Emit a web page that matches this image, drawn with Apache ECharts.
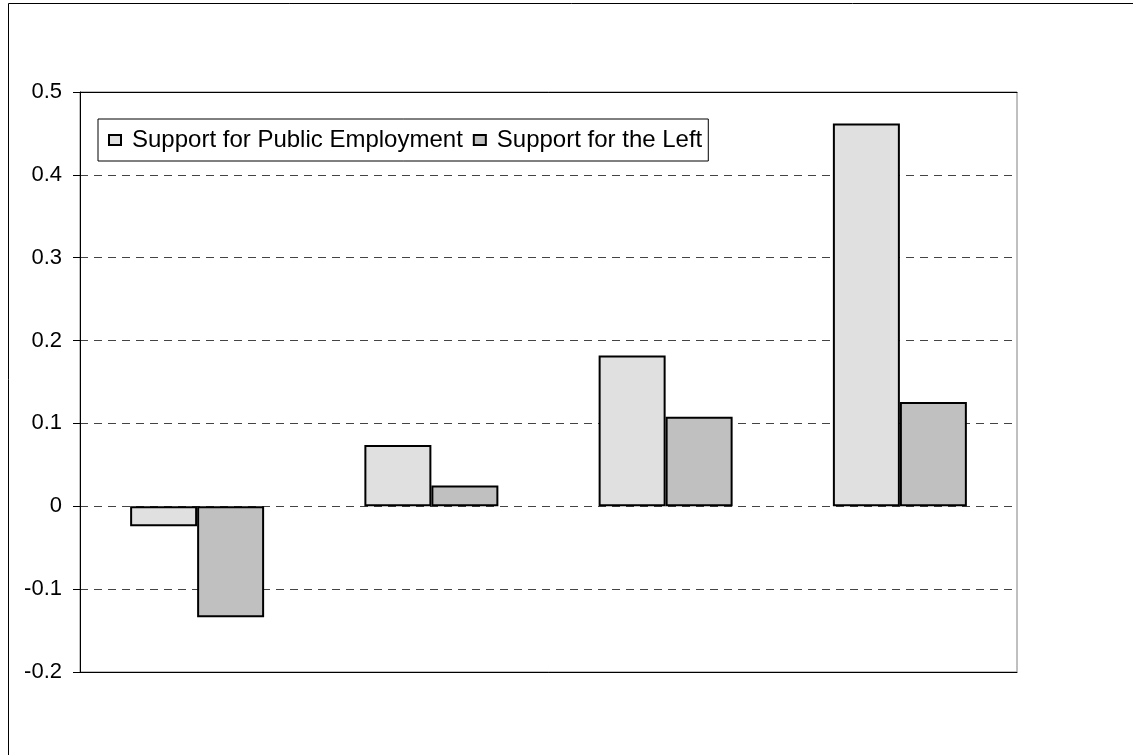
<!DOCTYPE html>
<html>
<head>
<meta charset="utf-8">
<script src="https://cdn.jsdelivr.net/npm/echarts@6/dist/echarts.min.js"></script>
<style>
html,body{margin:0;padding:0;background:#fff;}
#chart{width:1133px;height:755px;}
</style>
</head>
<body>
<div id="chart"></div>
<script>
const categories = ['Group 1', 'Group 2', 'Group 3', 'Group 4'];
const seriesNames = ['Support for Public Employment', 'Support for the Left'];
const publicEmployment = [-0.024, 0.074, 0.182, 0.462];
const supportLeft = [-0.134, 0.025, 0.108, 0.126];
const yMin = -0.2, yMax = 0.5, yStep = 0.1;

const chart = echarts.init(document.getElementById('chart'));
const font = 'Liberation Sans, Arial, sans-serif';
const legendTextWidths = [334, 208];
chart.setOption({
  animation: false,
  backgroundColor: '#fff',
  graphic: [{
    type: 'rect',
    shape: { x: 8.5, y: 3.5, width: 1200, height: 800 },
    style: { fill: 'none', stroke: '#000', lineWidth: 1 },
    silent: true
  }],
  grid: {
    left: 80, right: 116, top: 92, bottom: 83,
    show: true, borderColor: '#808080', borderWidth: 1, backgroundColor: 'transparent'
  },
  legend: {
    left: 98, top: 119,
    padding: [9, 6, 9, 10],
    borderColor: '#000', borderWidth: 1,
    backgroundColor: '#fff',
    itemWidth: 12, itemHeight: 10, itemGap: 10,
    icon: 'rect',
    textStyle: { fontFamily: font, fontSize: 24, color: '#000', padding: [0, 0, 0, 6] },
    data: seriesNames.map((n, i) => ({ name: n, textStyle: { width: legendTextWidths[i] } }))
  },
  xAxis: [{
    type: 'category', data: categories, position: 'bottom',
    axisLine: { show: true, onZero: false, lineStyle: { color: '#000', width: 1 } },
    axisTick: { show: false }, axisLabel: { show: false }, splitLine: { show: false }
  }, {
    type: 'category', data: categories, position: 'top',
    axisLine: { show: true, onZero: false, lineStyle: { color: '#000', width: 1 } },
    axisTick: { show: false }, axisLabel: { show: false }, splitLine: { show: false }
  }],
  yAxis: {
    type: 'value', min: yMin, max: yMax, interval: yStep,
    axisLine: { show: true, onZero: false, lineStyle: { color: '#000', width: 1 } },
    axisTick: { show: true, length: 7, inside: false, lineStyle: { color: '#000' } },
    axisLabel: {
      margin: 18, fontFamily: font, fontSize: 22, color: '#000',
      formatter: v => String(+v.toFixed(1))
    },
    splitLine: { show: true, lineStyle: { color: '#444', type: [8, 6], width: 1 } }
  },
  series: [{
    name: seriesNames[0], type: 'bar', data: publicEmployment,
    barGap: '0%', barCategoryGap: '42.8%',
    itemStyle: { color: '#e0e0e0', borderColor: '#000', borderWidth: 2 }
  }, {
    name: seriesNames[1], type: 'bar', data: supportLeft,
    barGap: '0%', barCategoryGap: '42.8%',
    itemStyle: { color: '#c0c0c0', borderColor: '#000', borderWidth: 2 }
  }]
});
</script>
</body>
</html>
